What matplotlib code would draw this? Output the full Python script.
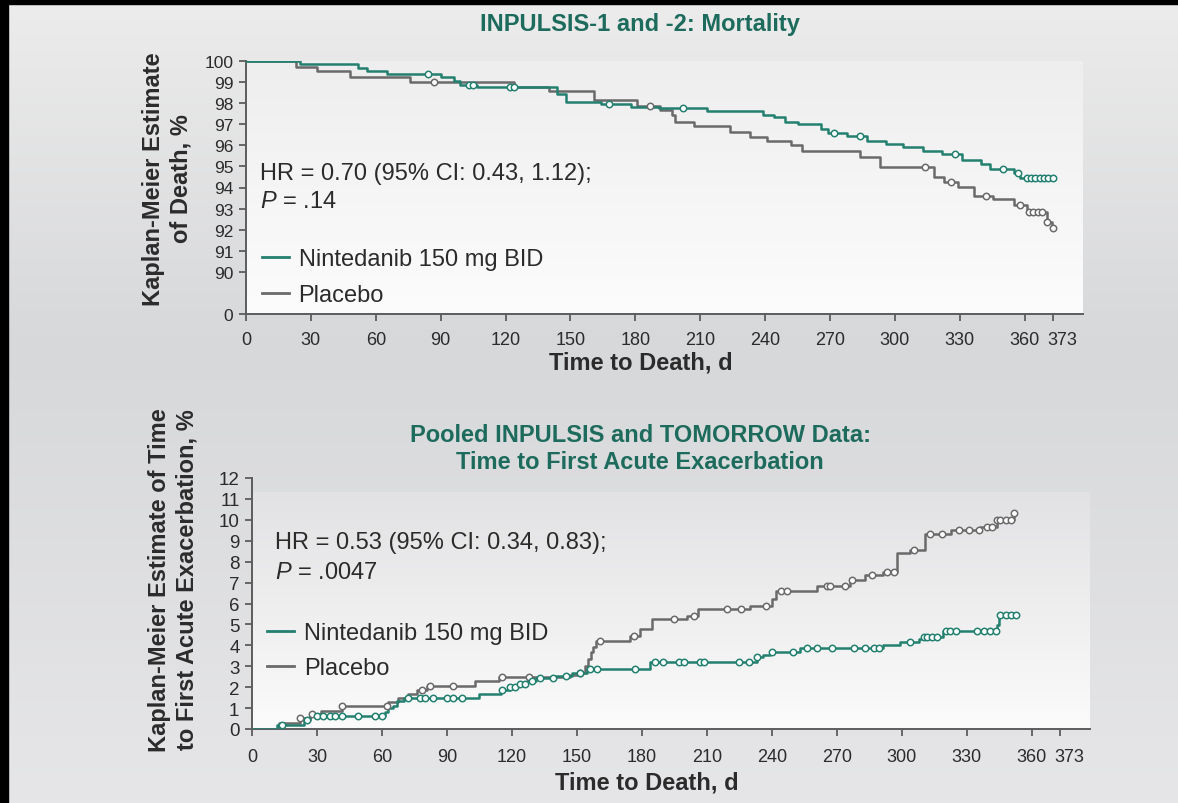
import numpy as np
import matplotlib
matplotlib.use("Agg")
import matplotlib.pyplot as plt
from matplotlib.colors import LinearSegmentedColormap
from matplotlib.lines import Line2D
from matplotlib.patches import Rectangle
from matplotlib.transforms import ScaledTranslation

plt.rcParams['font.family'] = ['Liberation Sans', 'DejaVu Sans']
plt.rcParams['mathtext.fontset'] = 'custom'
plt.rcParams['mathtext.it'] = 'Liberation Sans:italic'
plt.rcParams['mathtext.rm'] = 'Liberation Sans'

TEAL = '#23806f'
TITLE_C = '#1d6b5c'
GRAY = '#6a6a6a'
TXT = '#2b2b2b'
AXC = '#5c5c5c'

# ---- INPULSIS-1 and -2: mortality (KM estimate, %) ----
mort_nin_t = [0, 25, 52, 56, 65, 90, 96, 99, 107, 144, 148, 164, 178, 191, 213, 239, 244, 249,
              255, 266, 269, 278, 287, 296, 304, 313, 322, 331, 340, 344, 355, 358]
mort_nin_v = [100, 99.86, 99.67, 99.54, 99.40, 99.25, 99.07, 98.88, 98.75, 98.44, 98.07, 97.96,
              97.80, 97.75, 97.64, 97.44, 97.34, 97.12, 97.01, 96.78, 96.57, 96.43, 96.22, 96.06,
              95.90, 95.75, 95.59, 95.30, 95.10, 94.88, 94.69, 94.44]
mort_nin_cens = [84, 103, 105, 122, 124, 168, 202, 272, 284, 328, 350, 357,
                 361, 363, 365, 367, 369, 371, 373]

mort_pbo_t = [0, 23, 33, 48, 76, 124, 140, 161, 181, 191.5, 197, 198.5, 207, 224, 233, 241,
              252, 257, 284, 293, 318, 322.5, 329, 336.5, 345.5, 355, 361, 370.5, 372.5]
mort_pbo_v = [100, 99.70, 99.54, 99.23, 98.99, 98.75, 98.60, 98.13, 97.88, 97.66, 97.42, 97.10,
              96.94, 96.62, 96.40, 96.20, 96.00, 95.72, 95.44, 94.97, 94.49, 94.25, 94.01,
              93.62, 93.46, 93.17, 92.83, 92.35, 92.07]
mort_pbo_cens = [87, 187, 314, 326, 342, 357.7, 362, 364, 366, 368, 370.5, 373]

# ---- Pooled INPULSIS and TOMORROW: time to first acute exacerbation (%) ----
ae_nin_t = [0, 11.4, 24, 27, 61.5, 63, 65, 67, 70, 105, 115, 119, 123, 127, 131, 140, 148,
            154.6, 184, 233, 236, 239, 253, 291.6, 299.4, 307.8, 310, 319, 344, 345]
ae_nin_v = [0, 0.19, 0.45, 0.64, 0.81, 1.00, 1.12, 1.36, 1.47, 1.67, 1.85, 2.00, 2.15, 2.30,
            2.45, 2.55, 2.70, 2.87, 3.19, 3.43, 3.53, 3.67, 3.86, 4.02, 4.15, 4.31, 4.42,
            4.70, 4.95, 5.45]
ae_nin_cens = [13.7, 25.3, 29.9, 32.9, 36.1, 38.4, 41.4, 49.1, 56.8, 59.9, 72.2, 77.6, 79.9,
               83.8, 89.9, 93.0, 96.9, 115.4, 119.2, 121.5, 123.8, 126.2, 129.2, 133.1, 139,
               145, 151.6, 156, 159.3, 177, 186, 190, 197, 199.4, 207, 208.6, 224.7, 229.4,
               233.2, 240, 250, 256.3, 261, 268, 278, 283.3, 287.1, 289.5, 304, 310.3, 311.8,
               314, 316.4, 320.3, 322.5, 324.9, 334.9, 338, 341, 343.5, 345.6, 348, 350.3, 352.6]

ae_pbo_t = [0, 12.6, 22, 26.7, 32, 41.4, 63, 67.5, 72, 76, 80.7, 103, 114, 147, 151, 154, 155,
            156.6, 157.5, 159, 174.7, 179, 184.7, 201, 206, 230, 240, 242, 261, 276, 283,
            291.6, 298, 304, 311, 323, 336, 344, 351.8]
ae_pbo_v = [0, 0.29, 0.53, 0.72, 0.88, 1.10, 1.30, 1.49, 1.69, 1.86, 2.04, 2.31, 2.50, 2.60,
            2.70, 3.03, 3.35, 3.66, 3.90, 4.23, 4.47, 4.78, 5.26, 5.42, 5.74, 5.90, 6.20,
            6.62, 6.86, 7.10, 7.34, 7.50, 8.40, 8.55, 9.33, 9.50, 9.65, 9.97, 10.35]
ae_pbo_cens = [22.2, 27.6, 41.4, 62.2, 78.4, 82.2, 93.0, 115.4, 127.7, 151.6, 160.9, 176.3,
               194.8, 204, 219.5, 225.6, 237.2, 244.1, 247.2, 265.7, 267.1, 274, 277.1, 286.4,
               293.3, 296.4, 305.6, 313.3, 318.7, 326.4, 331, 335.6, 339.5, 341.8, 344.1,
               345.6, 348, 350.3, 351.8]

xticks = [0, 30, 60, 90, 120, 150, 180, 210, 240, 270, 300, 330, 360, 373]
mort_yticks = [0, 90, 91, 92, 93, 94, 95, 96, 97, 98, 99, 100]
ae_yticks = list(range(0, 13))

W, H = 1178, 804


def fx(px):
    return px / W


def fy(py):
    return 1 - py / H


def km_at(times, steps_t, steps_v):
    idx = np.searchsorted(steps_t, times, side='right') - 1
    return np.asarray(steps_v)[idx]


def draw_km(ax, steps_t, steps_v, cens, color):
    end = max(cens)
    t = np.append(steps_t, end)
    v = np.append(steps_v, steps_v[-1])
    ax.step(t, v, where='post', color=color, lw=1.8, zorder=3)
    ax.plot(cens, km_at(cens, steps_t, steps_v), 'o', ms=4.6, mfc='white', mec=color,
            mew=1.1, zorder=4, linestyle='none')


def style_axes(ax, ytick_size, xpad):
    ax.set_facecolor('none')
    for s in ['top', 'right']:
        ax.spines[s].set_visible(False)
    for s in ['left', 'bottom']:
        ax.spines[s].set_color(AXC)
        ax.spines[s].set_linewidth(1.4)
    ax.tick_params(axis='both', colors=AXC, width=1.3, length=5, direction='out')
    ax.tick_params(axis='x', labelsize=13, labelcolor=TXT, pad=xpad)
    ax.tick_params(axis='y', labelsize=ytick_size, labelcolor=TXT, pad=4)
    ax.set_xlim(0, 387)
    ax.set_xticks(xticks)
    # the "373" label sits a little to the right of its tick
    last = ax.xaxis.get_major_ticks()[-1].label1
    last.set_transform(last.get_transform() + ScaledTranslation(10 / 100, 0, fig.dpi_scale_trans))


fig = plt.figure(figsize=(W / 100, H / 100), dpi=100)

# background gradient
bg = fig.add_axes([0, 0, 1, 1], zorder=-10)
bg_cmap = LinearSegmentedColormap.from_list('bg', [(0, '#ececec'), (0.43, '#d7d8da'), (1, '#e6e6e8')])
bg.imshow(np.linspace(0, 1, 256).reshape(-1, 1), aspect='auto', cmap=bg_cmap, extent=[0, 1, 0, 1])
panel_top = LinearSegmentedColormap.from_list('p1', ['#eeeeee', '#fcfcfc'])
panel_bot = LinearSegmentedColormap.from_list('p2', ['#e2e2e4', '#fbfbfb'])
grad = np.linspace(0, 1, 256).reshape(-1, 1)
bg.imshow(grad, aspect='auto', cmap=panel_top, extent=[fx(246), fx(1083), fy(315), fy(62)])
bg.imshow(grad, aspect='auto', cmap=panel_bot, extent=[fx(252), fx(1090), fy(730), fy(493)])
bg.set_xlim(0, 1)
bg.set_ylim(0, 1)
bg.axis('off')
fig.patches.append(Rectangle((0, fy(5)), 1, 1 - fy(5), transform=fig.transFigure, color='black', zorder=20))
fig.patches.append(Rectangle((0, 0), fx(8), 1, transform=fig.transFigure, color='black', zorder=20))

# ---- top: mortality ----
ax1 = fig.add_axes([fx(246), fy(315), fx(1083) - fx(246), fy(62) - fy(315)])


def fwd(v):
    v = np.asarray(v, dtype=float)
    return np.where(v >= 90, v - 88, v / 45.0)


def inv(p):
    p = np.asarray(p, dtype=float)
    return np.where(p >= 2, p + 88, p * 45.0)


ax1.set_yscale('function', functions=(fwd, inv))
draw_km(ax1, mort_pbo_t, mort_pbo_v, mort_pbo_cens, GRAY)
draw_km(ax1, mort_nin_t, mort_nin_v, mort_nin_cens, TEAL)
style_axes(ax1, 12.5, 7)
ax1.set_ylim(0, 100)
ax1.set_yticks(mort_yticks)
ax1.set_yticklabels([str(v) for v in mort_yticks])
ax1.yaxis.set_minor_locator(matplotlib.ticker.NullLocator())

ax1.text(0.017, 0.556, 'HR = 0.70 (95% CI: 0.43, 1.12);', transform=ax1.transAxes,
         fontsize=17, color=TXT, va='center', ha='left')
ax1.text(0.017, 0.447, '$P$ = .14', transform=ax1.transAxes,
         fontsize=17, color=TXT, va='center', ha='left')
handles = [Line2D([], [], color=TEAL, lw=2), Line2D([], [], color=GRAY, lw=2)]
leg1 = ax1.legend(handles, ['Nintedanib 150 mg BID', 'Placebo'], loc='upper left',
                  bbox_to_anchor=(0.019, 0.26), frameon=False, fontsize=17,
                  handlelength=1.15, handletextpad=0.4, labelspacing=0.6,
                  borderpad=0, borderaxespad=0)
for t in leg1.get_texts():
    t.set_color(TXT)

fig.text(fx(640), fy(25), 'INPULSIS-1 and -2: Mortality', ha='center', va='center',
         fontsize=17, fontweight='bold', color=TITLE_C)
fig.text(fx(167), fy(179), 'Kaplan-Meier Estimate\nof Death, %', rotation=90, ha='center',
         va='center', fontsize=17, fontweight='bold', color=TXT, linespacing=1.25)
fig.text(fx(641), fy(363), 'Time to Death, d', ha='center', va='center', fontsize=17,
         fontweight='bold', color=TXT)

# ---- bottom: acute exacerbation ----
ax2 = fig.add_axes([fx(252), fy(730), fx(1090) - fx(252), fy(479) - fy(730)])
draw_km(ax2, ae_pbo_t, ae_pbo_v, ae_pbo_cens, GRAY)
draw_km(ax2, ae_nin_t, ae_nin_v, ae_nin_cens, TEAL)
style_axes(ax2, 13.5, 9)
ax2.set_ylim(0, 12)
ax2.set_yticks(ae_yticks)

ax2.text(0.027, 0.745, 'HR = 0.53 (95% CI: 0.34, 0.83);', transform=ax2.transAxes,
         fontsize=17, color=TXT, va='center', ha='left')
ax2.text(0.027, 0.625, '$P$ = .0047', transform=ax2.transAxes,
         fontsize=17, color=TXT, va='center', ha='left')
leg2 = ax2.legend(handles, ['Nintedanib 150 mg BID', 'Placebo'], loc='upper left',
                  bbox_to_anchor=(0.018, 0.425), frameon=False, fontsize=17,
                  handlelength=1.15, handletextpad=0.4, labelspacing=0.55,
                  borderpad=0, borderaxespad=0)
for t in leg2.get_texts():
    t.set_color(TXT)

fig.text(fx(640), fy(449), 'Pooled INPULSIS and TOMORROW Data:\nTime to First Acute Exacerbation',
         ha='center', va='center', fontsize=17, fontweight='bold', color=TITLE_C, linespacing=1.2)
fig.text(fx(173), fy(580), 'Kaplan-Meier Estimate of Time\nto First Acute Exacerbation, %',
         rotation=90, ha='center', va='center', fontsize=17, fontweight='bold', color=TXT,
         linespacing=1.25)
fig.text(fx(647), fy(783), 'Time to Death, d', ha='center', va='center', fontsize=17,
         fontweight='bold', color=TXT)

fig.savefig('out.png', dpi=100)
